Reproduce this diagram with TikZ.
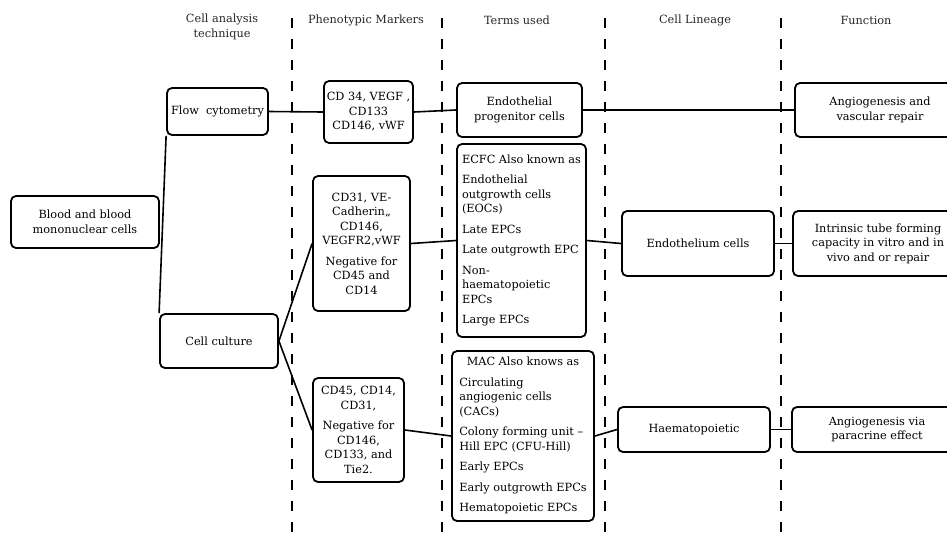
\documentclass[tikz,border=0pt]{standalone}
\usepackage{tikz}
\usepackage{fontspec}
\setmainfont{DejaVu Serif}

\begin{document}
\begin{tikzpicture}[x=1pt,y=-1pt,
  txt/.style={font=\fontsize{11.3}{14.5}\selectfont},
  box/.style={txt,draw,line width=1.8pt,rounded corners=5pt,align=center,inner sep=2pt},
  link/.style={line width=1.6pt},
  sep/.style={line width=2.5pt,dash pattern=on 10pt off 11pt},
  head/.style={txt,align=center,text=black!85}]
%\draw[help lines] (0,0) grid[step=50] (947,536);
\useasboundingbox (0,0) rectangle (947,536);
\clip (0,0) rectangle (947,536);

\foreach \x in {292, 442, 605, 781}
  \draw[sep] (\x,18) -- (\x,536);

\foreach \x/\y/\n/\t in {222/27/tech/{Cell analysis\\technique}, 366/20/mark/Phenotypic Markers,
    517/20/term/Terms used, 695/20/line/Cell Lineage, 866/20/func/Function}
  \node[head] (h\n) at (\x,\y) {\t};

\node[box,minimum width=148pt,minimum height=52pt] (blood) at (85,222) {Blood and blood\\mononuclear cells};
\node[box,minimum width=101pt,minimum height=47pt] (flow) at (217.5,111.5) {Flow\ \ cytometry};
\node[box,minimum width=118pt,minimum height=54pt] (culture) at (219,341) {Cell culture};

\node[box,minimum width=89pt,minimum height=62pt] (cd34) at (368.5,112) {CD 34, VEGF ,\\CD133\\CD146, vWF};
\node[box,minimum width=97pt,minimum height=135pt] (cd31) at (361.5,243.5)
  {CD31, VE-\\Cadherin,,\\CD146,\\VEGFR2,vWF\\[6pt]Negative for\\CD45 and\\CD14};
\node[box,minimum width=91pt,minimum height=104pt] (cd45) at (358.5,430)
  {CD45, CD14,\\CD31,\\[6pt]Negative for\\CD146,\\CD133, and\\Tie2.};

\node[box,minimum width=125pt,minimum height=54pt] (epc) at (519.5,110) {Endothelial\\progenitor cells};
\node[box,align=left,minimum width=129pt,minimum height=193pt] (ecfc) at (521.5,240.5)
  {ECFC Also known as\\[6pt]Endothelial\\outgrowth cells\\(EOCs)\\[6pt]Late EPCs\\[6pt]Late outgrowth EPC\\[6pt]Non-\\haematopoietic\\EPCs\\[6pt]Large EPCs};
\node[box,minimum width=142pt,minimum height=170pt] (mac) at (523,436)
  {\begin{tabular}{@{}l@{}}
   \multicolumn{1}{@{}c@{}}{MAC Also knows as}\\[6pt]
   Circulating\\angiogenic cells\\(CACs)\\[6pt]
   Colony forming unit --\\Hill EPC (CFU-Hill)\\[6pt]
   Early EPCs\\[6pt]Early outgrowth EPCs\\[6pt]Hematopoietic EPCs
   \end{tabular}};

\node[box,minimum width=152pt,minimum height=65pt] (endo) at (698,243.5) {Endothelium cells};
\node[box,minimum width=152pt,minimum height=45pt] (haem) at (694,429.5) {Haematopoietic};

\node[box,minimum width=170pt,minimum height=54pt] (fvasc) at (880,110) {Angiogenesis and\\vascular repair};
\node[box,minimum width=170pt,minimum height=65pt] (ftube) at (878,243.5)
  {Intrinsic tube forming\\capacity in vitro and in\\vivo and or repair};
\node[box,minimum width=170pt,minimum height=45pt] (fpara) at (877,429.5) {Angiogenesis via\\paracrine effect};

\draw[link] (flow.south west) -- (culture.north west);
\foreach \a/\b in {flow/cd34, cd34/epc, epc/fvasc, culture/cd31, culture/cd45, cd31/ecfc,
    ecfc/endo, endo/ftube, cd45/mac, mac/haem, haem/fpara}
  \draw[link] (\a.east) -- (\b.west);
\end{tikzpicture}
\end{document}
